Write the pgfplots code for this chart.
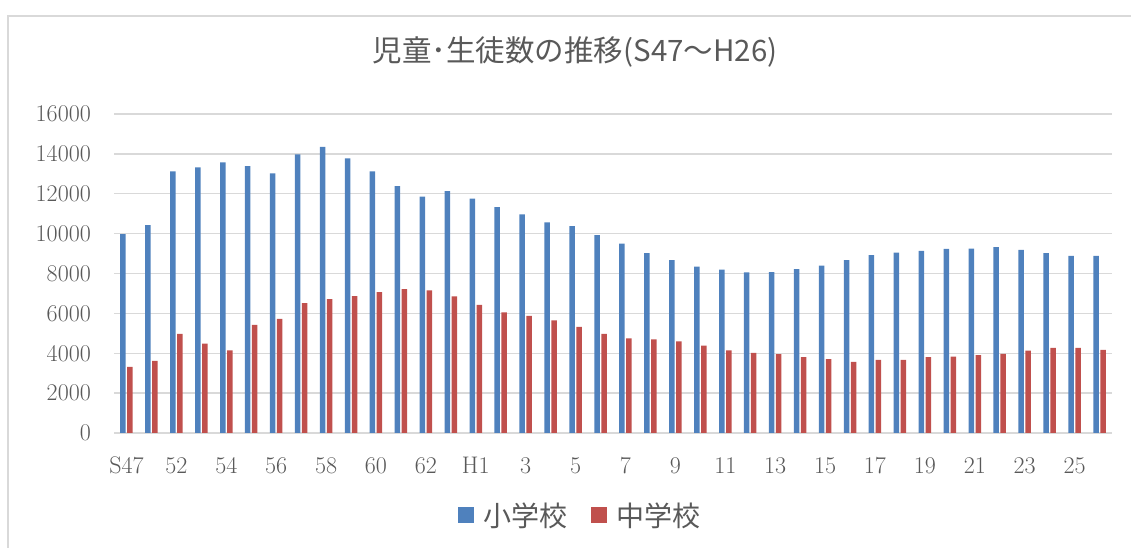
\documentclass[border=0pt]{standalone}
\usepackage{fontspec}
\usepackage{pgfplots}
\usepackage{pgfplotstable}
\pgfplotsset{compat=1.18}
\newfontfamily\cjk{Noto Sans CJK JP}
\definecolor{sblue}{HTML}{4F81BD}
\definecolor{sred}{HTML}{C0504D}
\definecolor{txtgrey}{HTML}{595959}
\definecolor{gridgrey}{HTML}{D9D9D9}
\pgfplotsset{sqlegend/.style={legend image code/.code={\fill[##1] (0pt,-8pt) rectangle (16pt,8pt);}}}
\pgfplotstableread{
x blue red
0 9970 3320
1 10420 3620
2 13120 4970
3 13320 4480
4 13570 4150
5 13380 5420
6 13020 5730
7 13970 6520
8 14350 6720
9 13770 6870
10 13120 7070
11 12380 7220
12 11850 7150
13 12130 6850
14 11750 6430
15 11330 6050
16 10970 5880
17 10570 5650
18 10370 5320
19 9920 4970
20 9500 4750
21 9020 4700
22 8670 4600
23 8350 4380
24 8200 4150
25 8050 4020
26 8070 3950
27 8220 3800
28 8400 3700
29 8670 3570
30 8920 3670
31 9050 3670
32 9130 3800
33 9230 3830
34 9250 3900
35 9320 3970
36 9180 4130
37 9020 4270
38 8880 4270
39 8880 4170
}\datatable
\begin{document}
\begin{tikzpicture}
\path[use as bounding box] (0,0) rectangle (1131pt,548pt);
\draw[gridgrey, line width=1.5pt] (8pt,-5pt) -- (8pt,532pt) -- (1140pt,532pt);
\begin{axis}[
  at={(114pt,115pt)}, anchor=south west,
  scale only axis, width=998pt, height=319pt,
  xmin=-0.5, xmax=39.5, ymin=0, ymax=16000,
  xtick={0,2,...,38},
  xticklabels={S47,52,54,56,58,60,62,H1,3,5,7,9,11,13,15,17,19,21,23,25},
  ytick={0,2000,...,16000},
  scaled y ticks=false,
  /pgf/number format/1000 sep={},
  /pgf/number format/assume math mode=true,
  ticklabel style={font=\fontsize{24}{28}\selectfont, text=txtgrey},
  yticklabel style={anchor=east, inner sep=0pt, xshift=-23pt},
  xticklabel style={anchor=north, inner sep=0pt, yshift=-24pt},
  major tick length=0pt,
  axis line style={draw=none},
  ymajorgrids=true,
  major grid style={draw=gridgrey, line width=1.3pt},
  ybar, bar width=5.5pt,
  title={\cjk 児童･生徒数の推移(S47〜H26)},
  title style={at={(0.462,1.1755)}, anchor=center, font=\fontsize{29.5}{34}\selectfont, text=txtgrey},
  legend style={at={(0.467,-0.257)}, anchor=center, draw=none, fill=none,
    legend columns=2, font=\cjk\fontsize{28}{32}\selectfont, text=txtgrey,
    /tikz/every odd column/.append style={column sep=7pt},
    /tikz/every even column/.append style={column sep=22pt}},
  legend cell align=left,
]
\addplot[fill=sblue, draw=none, bar shift=-3.5pt, sqlegend] table[x=x, y=blue] {\datatable};
\addlegendentry{小学校}
\addplot[fill=sred, draw=none, bar shift=3.5pt, sqlegend] table[x=x, y=red] {\datatable};
\addlegendentry{中学校}
\end{axis}
\end{tikzpicture}
\end{document}
